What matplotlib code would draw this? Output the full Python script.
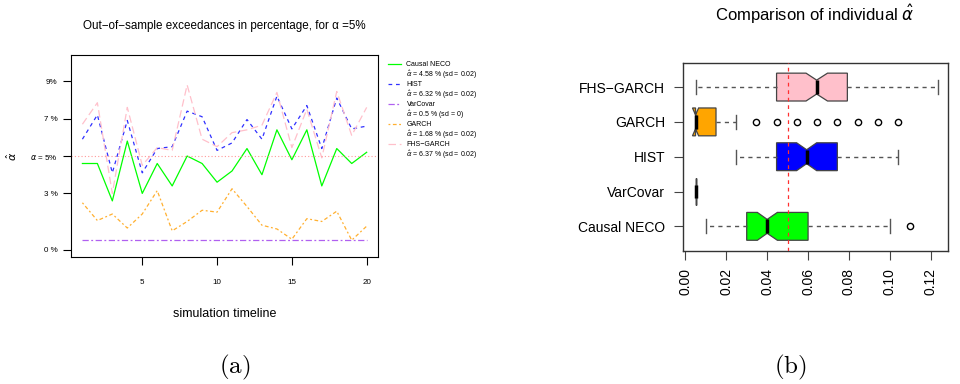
import numpy as np
import matplotlib
matplotlib.use("Agg")
import matplotlib.pyplot as plt
from matplotlib.lines import Line2D

plt.rcParams['font.family'] = ['Liberation Sans', 'DejaVu Sans']

# dati pannello (a): eccedenze in percentuale
t = [1, 2, 3, 4, 5, 6, 7, 8, 9, 10, 11, 12, 13, 14, 15, 16, 17, 18, 19, 20]
neco = [4.6, 4.6, 2.6, 5.8, 3.0, 4.6, 3.4, 5.0, 4.6, 3.6, 4.2, 5.4, 4.0, 6.4, 4.8, 6.4, 3.4, 5.4, 4.6, 5.2]
hist = [5.9, 7.2, 4.1, 6.9, 4.1, 5.4, 5.5, 7.4, 7.1, 5.3, 5.7, 6.95, 5.9, 8.2, 6.45, 7.7, 5.4, 8.1, 6.45, 6.6]
varcovar = [0.5, 0.5, 0.5, 0.5, 0.5, 0.5, 0.5, 0.5, 0.5, 0.5, 0.5, 0.5, 0.5, 0.5, 0.5, 0.5, 0.5, 0.5, 0.5, 0.5]
garch = [2.5, 1.55, 1.9, 1.15, 1.9, 3.15, 1.0, 1.5, 2.1, 2.0, 3.25, 2.3, 1.3, 1.1, 0.55, 1.65, 1.5, 2.05, 0.5, 1.25]
fhs = [6.7, 7.85, 3.0, 7.6, 4.5, 5.45, 5.3, 8.8, 5.9, 5.5, 6.25, 6.4, 6.65, 8.4, 5.45, 7.5, 4.9, 8.45, 6.1, 7.6]
nomi = ["Causal NECO", "HIST", "VarCovar", "GARCH", "FHS\u2212GARCH"]
medie = [r"$\hat{\alpha}$ = 4.58 % (sd = 0.02)", r"$\hat{\alpha}$ = 6.32 % (sd = 0.02)",
         r"$\hat{\alpha}$ = 0.5 % (sd = 0)", r"$\hat{\alpha}$ = 1.68 % (sd = 0.02)",
         r"$\hat{\alpha}$ = 6.37 % (sd = 0.02)"]
yticks_a = [0, 3, 5, 7, 9]
ylabels_a = ["0 %", "3 %", r"$\alpha$ = 5%", "7 %", "9%"]

# dati pannello (b): boxplot alpha individuali (dal basso verso l'alto)
box_nomi = ["Causal NECO", "VarCovar", "HIST", "GARCH", "FHS\u2212GARCH"]
box_q1 = [0.030, 0.005, 0.0446, 0.005, 0.0446]
box_med = [0.040, 0.005, 0.0593, 0.005, 0.0642]
box_q3 = [0.060, 0.005, 0.0743, 0.015, 0.0792]
box_lo = [0.010, 0.005, 0.0246, 0.005, 0.005]
box_hi = [0.100, 0.005, 0.104, 0.0246, 0.1236]
box_cilo = [0.0352, 0.005, 0.0544, 0.0035, 0.059]
box_cihi = [0.0450, 0.005, 0.0642, 0.0065, 0.0695]
box_out = [[0.110], [], [], [0.0347, 0.0446, 0.0546, 0.0643, 0.0743, 0.0842, 0.0941, 0.104], []]
box_col = ["#00FF00", "white", "#0000FF", "#FFA500", "#FFC0CB"]

fig = plt.figure(figsize=(9.6, 3.84), dpi=100)

# ---- (a)
ax = fig.add_axes([0.074, 0.3307, 0.3198, 0.526])
stili = [dict(color="#00FF00", ls="-"),
         dict(color="#3030FF", ls=(0, (3, 3))),
         dict(color="#B060F0", ls=(0, (5, 2, 1.5, 2))),
         dict(color="#FFB030", ls=(0, (1.5, 2, 3, 2))),
         dict(color="#FFC0CB", ls=(0, (6, 3)))]
serie = [neco, hist, varcovar, garch, fhs]
for s, st in zip(serie, stili):
    ax.plot(t, s, lw=0.9, **st)
ax.axhline(5, color="#FF9999", ls=(0, (1, 2)), lw=0.8)
ax.set_xlim(0.24, 20.76)
ax.set_ylim(-0.4, 10.4)
ax.set_xticks([5, 10, 15, 20])
ax.set_yticks(yticks_a)
ax.set_yticklabels(ylabels_a)
ax.tick_params(axis="x", length=5.8, pad=10, labelsize=5.8)
ax.tick_params(axis="y", length=5.8, pad=4, labelsize=5.8)
for sp in ax.spines.values():
    sp.set_linewidth(0.8)
ax.set_xlabel("simulation timeline", fontsize=9, labelpad=16)
ax.set_ylabel(r"$\hat{\alpha}$", fontsize=8, labelpad=8)
ax.set_title("Out\u2212of\u2212sample exceedances in percentage, for \u03b1 =5%", fontsize=8.4, pad=19)

handles = []
labels = []
for st, n, m in zip(stili, nomi, medie):
    handles.append(Line2D([], [], lw=0.9, **st))
    labels.append(n)
    handles.append(Line2D([], [], lw=0, color="none"))
    labels.append(m)
leg = fig.legend(handles, labels, loc="upper left", bbox_to_anchor=(0.401, 0.848),
                 frameon=False, fontsize=5.0, handlelength=1.9, handletextpad=0.8,
                 labelspacing=0.05, borderaxespad=0)

fig.text(235 / 960, 0.044, r"$\mathrm{(a)}$", math_fontfamily="cm", fontsize=18,
         ha="center", va="center")

# ---- (b)
bx = fig.add_axes([0.7111, 0.3471, 0.276, 0.4896])
stats = []
for i in range(len(box_nomi)):
    stats.append(dict(med=box_med[i], q1=box_q1[i], q3=box_q3[i], whislo=box_lo[i],
                      whishi=box_hi[i], cilo=box_cilo[i], cihi=box_cihi[i],
                      fliers=box_out[i], label=box_nomi[i]))
pos = np.arange(1, len(box_nomi) + 1)
res = bx.bxp(stats, positions=pos, vert=False, widths=0.8, shownotches=True,
             patch_artist=True,
             boxprops=dict(edgecolor="#444444", lw=0.9),
             whiskerprops=dict(color="#555555", ls=(0, (3, 3)), lw=1.0),
             capprops=dict(color="#555555", lw=1.0),
             medianprops=dict(color="black", lw=2.5),
             flierprops=dict(marker="o", mfc="none", mec="black", ms=4.5, mew=1.0))
for p, c in zip(res["boxes"], box_col):
    p.set_facecolor(c)
bx.axvline(0.05, color="#FF3030", ls=(0, (3, 3)), lw=0.9, zorder=5)
bx.set_xlim(-0.0013, 0.1282)
bx.set_ylim(0.3, 5.7)
bx.set_xticks([0.00, 0.02, 0.04, 0.06, 0.08, 0.10, 0.12])
bx.set_xticklabels(["0.00", "0.02", "0.04", "0.06", "0.08", "0.10", "0.12"], rotation=90)
bx.set_yticks(pos)
bx.set_yticklabels(box_nomi)
bx.tick_params(axis="both", length=6.5, pad=6, labelsize=10, color="#444444")
for sp in bx.spines.values():
    sp.set_linewidth(1.0)
    sp.set_color("#333333")
bx.set_title(r"Comparison of individual $\hat{\alpha}$", fontsize=12, pad=30)

fig.text(790 / 960, 0.044, r"$\mathrm{(b)}$", math_fontfamily="cm", fontsize=18,
         ha="center", va="center")

fig.savefig("out.png", dpi=100)
